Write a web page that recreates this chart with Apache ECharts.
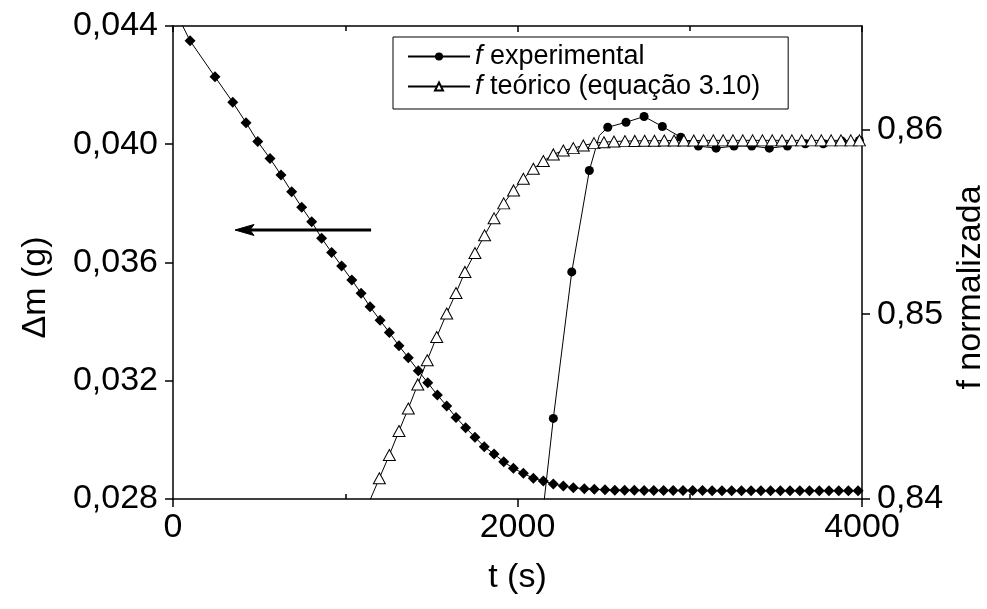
<!DOCTYPE html>
<html>
<head>
<meta charset="utf-8">
<script src="https://cdn.jsdelivr.net/npm/echarts@6/dist/echarts.min.js"></script>
<style>
  html, body { margin: 0; padding: 0; background: #fff; }
  #chart { width: 987px; height: 609px; }
</style>
</head>
<body>
<div id="chart"></div>
<script>
// Mass loss Δm (g) versus time t (s)
const timeMass = [0, 99, 244, 347, 424, 492, 563, 627, 689, 747, 805, 863, 921, 979, 1038, 1092, 1144, 1202, 1256, 1312,
  1366, 1424, 1479, 1535, 1589, 1643, 1699, 1753, 1807, 1864, 1920, 1976, 2034, 2092, 2150, 2208, 2266, 2324, 2388, 2446,
  2508, 2565, 2622, 2678, 2735, 2791, 2848, 2904, 2961, 3017, 3074, 3130, 3187, 3243, 3300, 3356, 3413, 3469, 3526, 3582,
  3639, 3695, 3752, 3808, 3865, 3921, 3977];
const massLoss = [0.04466, 0.04350, 0.04228, 0.04142, 0.04073, 0.04009, 0.03952, 0.03896, 0.03839, 0.03787, 0.03738,
  0.03682, 0.03634, 0.03588, 0.03541, 0.03496, 0.03450, 0.03405, 0.03363, 0.03318, 0.03278, 0.03234, 0.03193, 0.03152,
  0.03115, 0.03076, 0.03041, 0.03009, 0.02977, 0.02952, 0.02926, 0.02904, 0.02887, 0.02870, 0.02861, 0.02851, 0.02844,
  0.02838, 0.02835, 0.02833, 0.02831, 0.02830, 0.02830, 0.02830, 0.02829, 0.02829, 0.02829, 0.02829, 0.02829, 0.02829,
  0.02829, 0.02828, 0.02828, 0.02828, 0.02828, 0.02828, 0.02828, 0.02828, 0.02828, 0.02828, 0.02828, 0.02828, 0.02828,
  0.02828, 0.02828, 0.02828, 0.02828];

// Normalized f, experimental
const timeExp = [2104, 2208, 2315, 2417, 2475, 2524, 2630, 2735, 2841, 2948, 3050, 3153, 3257, 3360, 3462, 3567, 3671, 3775, 3883, 3985];
const fExp = [0.83568, 0.84436, 0.85229, 0.85778, 0.85967, 0.86012, 0.86039, 0.86070, 0.86016, 0.85958, 0.85910, 0.85899,
  0.85910, 0.85910, 0.85899, 0.85910, 0.85923, 0.85923, 0.85937, 0.85940];
// samples on the experimental curve drawn without a marker
const expUnmarked = [2104, 2475];

// Normalized f, theoretical (equação 3.10)
const timeTeo = [1140, 1198, 1256, 1312, 1366, 1421, 1476, 1531, 1589, 1643, 1695, 1753, 1809, 1864, 1920, 1977, 2034,
  2092, 2150, 2208, 2266, 2324, 2382, 2444, 2502, 2560, 2624, 2681, 2738, 2795, 2852, 2909, 2966, 3023, 3080, 3137, 3194,
  3251, 3308, 3365, 3422, 3479, 3536, 3593, 3650, 3707, 3764, 3821, 3878, 3935, 3985];
const fTeo = [0.83986, 0.84112, 0.84238, 0.84368, 0.84490, 0.84620, 0.84751, 0.84877, 0.85004, 0.85115, 0.85229, 0.85331,
  0.85427, 0.85519, 0.85600, 0.85670, 0.85733, 0.85787, 0.85829, 0.85865, 0.85886, 0.85899, 0.85913, 0.85926, 0.85931,
  0.85935, 0.85937, 0.85938, 0.85939, 0.85939, 0.85940, 0.85940, 0.85940, 0.85940, 0.85941, 0.85941, 0.85941, 0.85941,
  0.85941, 0.85941, 0.85941, 0.85941, 0.85941, 0.85941, 0.85941, 0.85941, 0.85941, 0.85941, 0.85941, 0.85941, 0.85941];

// Axis ticks
const xTicks = { min: 0, max: 4000, step: 2000 };
const massTicks = { min: 0.028, max: 0.044, step: 0.004 };
const fTicks = { min: 0.84, max: 0.8656, step: 0.01 };

// Arrow pointing to the Δm axis: [t tail, t tip, Δm level]
const arrowSpan = [1150, 360, 0.0371];

const FONT = "'Liberation Sans', Arial, Helvetica, sans-serif";
const BLACK = '#000';

function pairs(ts, vs, unmarked) {
  return ts.map((t, i) => {
    const item = { value: [t, vs[i]] };
    if (unmarked && unmarked.indexOf(t) >= 0) item.symbol = 'none';
    return item;
  });
}

const axisLine = { show: true, onZero: false, lineStyle: { color: BLACK, width: 1.5 } };
const tickStyle = { color: BLACK, width: 1.5 };
const labelStyle = { color: BLACK, fontSize: 34, fontFamily: FONT };
const nameStyle = { color: BLACK, fontSize: 34, fontFamily: FONT };

const chart = echarts.init(document.getElementById('chart'), null, { renderer: 'canvas' });

chart.setOption({
  animation: false,
  backgroundColor: '#fff',
  grid: { left: 173, right: 125, top: 26, bottom: 110, outerBoundsMode: 'none', containLabel: false },
  legend: {
    orient: 'vertical',
    left: 393,
    top: 37,
    selectedMode: false,
    itemWidth: 62,
    itemHeight: 10,
    itemGap: 3,
    padding: [6, 28, 9, 14],
    borderColor: BLACK,
    borderWidth: 1,
    backgroundColor: '#fff',
    data: ['f experimental', 'f teórico (equação 3.10)'],
    formatter: n => '{it|f} ' + n.slice(2),
    textStyle: {
      color: BLACK, fontSize: 27, lineHeight: 27, fontFamily: FONT,
      rich: { it: { fontStyle: 'italic', fontSize: 27, lineHeight: 27, fontFamily: FONT, color: BLACK } }
    }
  },
  xAxis: [
    {
      type: 'value', position: 'bottom',
      min: xTicks.min, max: xTicks.max, interval: xTicks.step,
      axisLine: axisLine,
      axisTick: { show: true, length: 8, lineStyle: tickStyle },
      axisLabel: Object.assign({
        margin: 12, showMinLabel: true, showMaxLabel: true,
        formatter: v => String(v)
      }, labelStyle),
      splitLine: { show: false },
      name: 't (s)', nameLocation: 'middle', nameGap: 62, nameTextStyle: nameStyle
    },
    {
      type: 'value', position: 'top',
      min: xTicks.min, max: xTicks.max, interval: xTicks.step,
      axisLine: axisLine,
      axisTick: { show: true, inside: true, length: 6, lineStyle: tickStyle },
      minorTick: { show: true, splitNumber: 2, length: 5, lineStyle: tickStyle },
      axisLabel: { show: false },
      splitLine: { show: false }
    },
    {
      type: 'value', position: 'bottom',
      min: xTicks.min, max: xTicks.max, interval: xTicks.step,
      axisLine: { show: false },
      axisTick: { show: false, inside: true },
      minorTick: { show: true, splitNumber: 2, length: 5, lineStyle: tickStyle },
      axisLabel: { show: false },
      splitLine: { show: false }
    }
  ],
  yAxis: [
    {
      type: 'value', position: 'left',
      min: massTicks.min, max: massTicks.max, interval: massTicks.step,
      axisLine: axisLine,
      axisTick: { show: true, length: 8, lineStyle: tickStyle },
      axisLabel: Object.assign({
        margin: 15, showMinLabel: true, showMaxLabel: true,
        formatter: v => v.toFixed(3).replace('.', ',')
      }, labelStyle),
      splitLine: { show: false },
      name: 'Δm (g)', nameLocation: 'middle', nameGap: 120,
      nameTextStyle: Object.assign({ padding: [0, 50, 0, 0] }, nameStyle)
    },
    {
      type: 'value', position: 'right',
      min: fTicks.min, max: fTicks.max, interval: fTicks.step,
      axisLine: axisLine,
      axisTick: { show: true, length: 8, lineStyle: tickStyle },
      axisLabel: Object.assign({
        margin: 15, showMinLabel: true, showMaxLabel: false,
        formatter: v => v.toFixed(2).replace('.', ',')
      }, labelStyle),
      splitLine: { show: false },
      name: 'f normalizada', nameLocation: 'middle', nameGap: 88,
      nameTextStyle: Object.assign({ padding: [0, 50, 0, 0] }, nameStyle)
    }
  ],
  series: [
    {
      name: 'Δm',
      type: 'line',
      xAxisIndex: 0, yAxisIndex: 0,
      data: pairs(timeMass, massLoss),
      symbol: 'diamond', symbolSize: 11,
      itemStyle: { color: BLACK },
      lineStyle: { color: BLACK, width: 1 },
      clip: true,
      emphasis: { disabled: true }
    },
    {
      name: 'f experimental',
      type: 'line',
      xAxisIndex: 0, yAxisIndex: 1,
      data: pairs(timeExp, fExp, expUnmarked),
      symbol: 'circle', symbolSize: 9,
      itemStyle: { color: BLACK, borderColor: BLACK, borderWidth: 0 },
      lineStyle: { color: BLACK, width: 1 },
      clip: true,
      emphasis: { disabled: true }
    },
    {
      name: 'f teórico (equação 3.10)',
      type: 'line',
      xAxisIndex: 0, yAxisIndex: 1,
      data: pairs(timeTeo, fTeo),
      symbol: 'triangle', symbolSize: [12, 11],
      itemStyle: { color: '#fff', borderColor: BLACK, borderWidth: 1 },
      lineStyle: { color: BLACK, width: 1 },
      clip: true,
      emphasis: { disabled: true }
    }
  ]
});

// Arrow indicating that the diamond curve belongs to the left axis
const tail = chart.convertToPixel({ xAxisIndex: 0, yAxisIndex: 0 }, [arrowSpan[0], arrowSpan[2]]);
const tip = chart.convertToPixel({ xAxisIndex: 0, yAxisIndex: 0 }, [arrowSpan[1], arrowSpan[2]]);
const headLen = 19, headHalf = 5.5, notch = 15;
chart.setOption({
  graphic: [
    {
      type: 'line', silent: true, z: 10,
      shape: { x1: tail[0], y1: tail[1], x2: tip[0] + notch, y2: tip[1] },
      style: { stroke: BLACK, lineWidth: 3 }
    },
    {
      type: 'polygon', silent: true, z: 10,
      shape: {
        points: [
          [tip[0], tip[1]],
          [tip[0] + headLen, tip[1] - headHalf],
          [tip[0] + notch, tip[1]],
          [tip[0] + headLen, tip[1] + headHalf]
        ]
      },
      style: { fill: BLACK, stroke: BLACK, lineWidth: 1 }
    }
  ]
});
</script>
</body>
</html>
